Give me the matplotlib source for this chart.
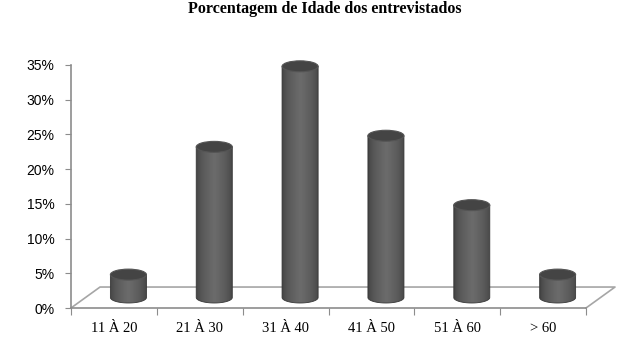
import matplotlib.pyplot as plt
import numpy as np
from matplotlib.patches import Ellipse, PathPatch
from matplotlib.path import Path
from matplotlib.ticker import FuncFormatter

# dados do grafico
faixas = ['11 À 20', '21 À 30', '31 À 40', '41 À 50', '51 À 60', '> 60']
porcentagens = [0.033, 0.217, 0.333, 0.233, 0.133, 0.033]
titulo = 'Porcentagem de Idade dos entrevistados'

# efeito 3D (profundidade em unidades de dados)
prof_x = 0.338
prof_y = 0.0302
larg = 0.42
elip_h = 0.0158

W, H = 632, 360
fig = plt.figure(figsize=(W / 100, H / 100), dpi=100)
ax = fig.add_axes([71 / W, (H - 308) / H, (586 - 71) / W, (308 - 65) / H])
ax.set_xlim(0, len(faixas))
ax.set_ylim(0, 0.35)

for s in ['top', 'right', 'bottom']:
    ax.spines[s].set_visible(False)
ax.spines['left'].set_color('#8c8c8c')
ax.spines['left'].set_linewidth(1.2)

# chao
cinza = '#a6a6a6'
n = len(faixas)
ax.plot([0, prof_x, n + prof_x, n], [0, prof_y, prof_y, 0], color=cinza, lw=1.2, clip_on=False, zorder=1)
ax.plot([0, n], [0, 0], color='#8c8c8c', lw=1.2, clip_on=False, zorder=1)

# sombreamento do cilindro: escuro nas bordas, claro no meio
g = np.concatenate([np.linspace(0, 1, 50), np.linspace(1, 0, 50)])
g = 0.24 + 0.18 * np.sqrt(g)
grad = np.dstack([g, g, g])[None, :, :].reshape(1, -1, 3)

for i, v in enumerate(porcentagens):
    cx = i + 0.5 + prof_x / 2
    base = prof_y / 2
    topo = base + v
    x0, x1 = cx - larg / 2, cx + larg / 2
    t = np.linspace(np.pi, 2 * np.pi, 40)
    arco = np.column_stack([cx + larg / 2 * np.cos(t), base + elip_h / 2 * np.sin(t)])
    verts = np.vstack([arco, [[x1, topo], [x0, topo], arco[0]]])
    codes = [Path.MOVETO] + [Path.LINETO] * (len(verts) - 2) + [Path.CLOSEPOLY]
    corpo = PathPatch(Path(verts, codes), facecolor='none', edgecolor='none', clip_on=False)
    ax.add_patch(corpo)
    im = ax.imshow(grad, aspect='auto', extent=(x0, x1, base - elip_h, topo),
                   zorder=3, interpolation='bilinear')
    im.set_clip_path(corpo)
    ax.add_patch(PathPatch(Path(verts, codes), facecolor='none', edgecolor='#383838',
                           lw=0.6, zorder=4, clip_on=False))
    ax.add_patch(Ellipse((cx, topo), larg, elip_h, facecolor='#444444', edgecolor='#555555',
                         lw=0.8, zorder=5, clip_on=False))

ax.set_xlim(0, n)
ax.set_ylim(0, 0.35)

ax.set_yticks(np.arange(0, 0.351, 0.05))
ax.yaxis.set_major_formatter(FuncFormatter(lambda y, p: f'{y * 100:.0f}%'))
ax.tick_params(axis='y', length=4, color='#8c8c8c', pad=8, labelsize=10)
for lb in ax.get_yticklabels():
    lb.set_family('Liberation Sans')

ax.set_xticks(range(n + 1))
ax.set_xticklabels([])
ax.set_xticks(np.arange(n) + 0.5, minor=True)
ax.set_xticklabels(faixas, minor=True, family='Liberation Serif', fontsize=10.5)
ax.tick_params(axis='x', which='major', length=5, color='#8c8c8c', direction='out')
ax.tick_params(axis='x', which='minor', length=0, pad=10)

fig.text(325 / W, 1 - 9 / H, titulo, ha='center', va='center', family='Liberation Serif',
         fontweight='bold', fontsize=11.5)

fig.savefig('out.png', dpi=100)
